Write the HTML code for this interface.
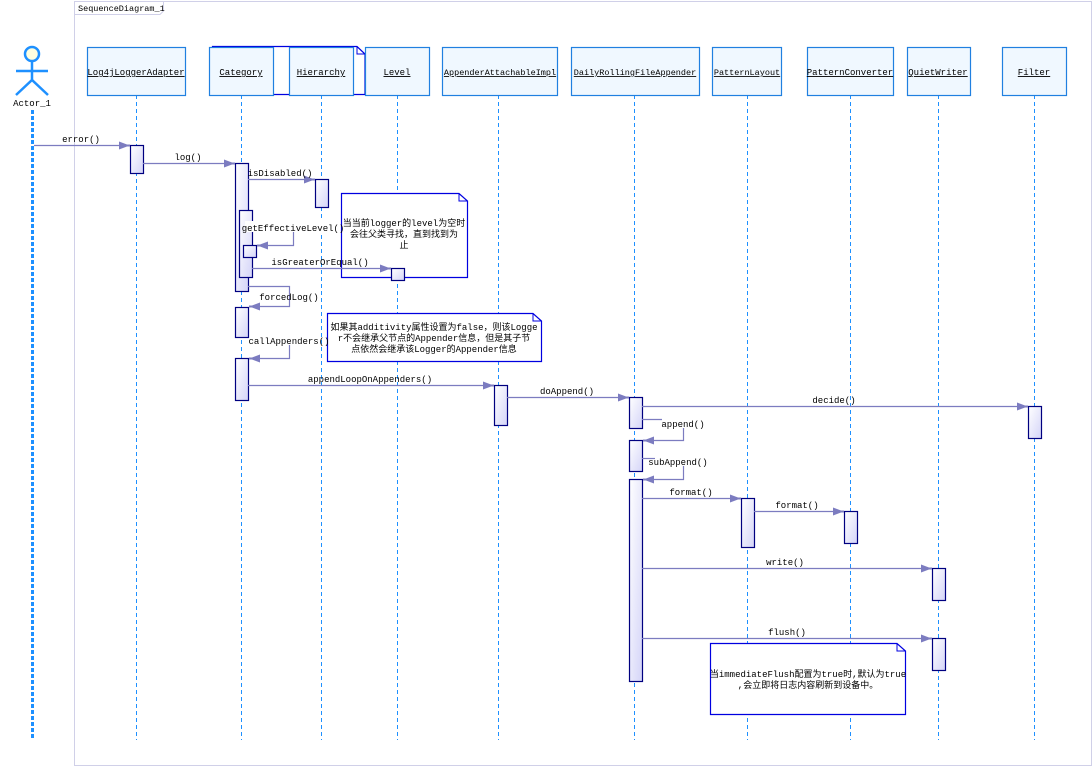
<!DOCTYPE html>
<html><head><meta charset="utf-8"><style>
html,body{margin:0;padding:0;background:#fff;}
svg{display:block;}
text{font-family:"Liberation Mono","Noto Sans CJK SC",monospace;font-size:9px;fill:#000;}
.t{text-anchor:middle;}
.box{fill:#f0f8ff;stroke:#2080e0;stroke-width:1.2;}
.ll{stroke:#1e90ff;stroke-width:1;stroke-dasharray:4,3;}
.act{fill:url(#ag);stroke:#000080;stroke-width:1.2;}
.m{stroke:#7c7cc0;stroke-width:1.2;fill:none;}
.note{fill:#fff;stroke:#0000e0;stroke-width:1.2;}
.cn{font-size:9px;}
</style></head><body>
<svg width="1092" height="766" viewBox="0 0 1092 766" xmlns="http://www.w3.org/2000/svg">
<defs>
<linearGradient id="ag" x1="0" y1="0" x2="1" y2="1"><stop offset="0" stop-color="#ffffff"/><stop offset="1" stop-color="#d4d4f8"/></linearGradient>
<marker id="ar" markerWidth="12" markerHeight="8" refX="11" refY="4" orient="auto" markerUnits="userSpaceOnUse"><path d="M0,0 L8,3 L11,3 L11,5 L8,5 L0,8 Z" fill="#7c7cc0"/></marker>
</defs>
<path d="M74.5,766 V1.5 H1091.5 V765.5 H74.5" fill="none" stroke="#d0d0e8" stroke-width="1"/>
<path d="M74.5,14.5 H160 L163.5,11 V1.5" fill="none" stroke="#d0d0e8"/>
<text x="78" y="11" style="font-size:8.5px">SequenceDiagram_1</text>
<path class="note" d="M212.5,46.5 H357 L365,54 V94.5 H212.5 Z"/>
<path d="M357,46.5 V54 H365" fill="none" stroke="#0000e0"/>
<circle cx="32" cy="54" r="7" fill="#ffffe0" stroke="#1e90ff" stroke-width="2.5"/>
<line x1="16" y1="71" x2="48" y2="71" stroke="#1e90ff" stroke-width="2.5"/>
<line x1="32" y1="61" x2="32" y2="80" stroke="#1e90ff" stroke-width="2.5"/>
<path d="M16,95 L32,80 L48,95" fill="none" stroke="#1e90ff" stroke-width="2.5"/>
<text class="t" x="32" y="106">Actor_1</text>
<line x1="32.5" y1="110" x2="32.5" y2="740" stroke="#1e90ff" stroke-width="3" stroke-dasharray="4,2"/>
<g class="ll">
<line x1="136.5" y1="95" x2="136.5" y2="740"/>
<line x1="241.5" y1="95" x2="241.5" y2="740"/>
<line x1="321.5" y1="95" x2="321.5" y2="740"/>
<line x1="397.5" y1="95" x2="397.5" y2="740"/>
<line x1="498.5" y1="95" x2="498.5" y2="740"/>
<line x1="634.5" y1="95" x2="634.5" y2="740"/>
<line x1="747.5" y1="95" x2="747.5" y2="740"/>
<line x1="850.5" y1="95" x2="850.5" y2="740"/>
<line x1="938.5" y1="95" x2="938.5" y2="740"/>
<line x1="1034.5" y1="95" x2="1034.5" y2="740"/>
</g>
<g>
<rect class="box" x="87.5" y="47.5" width="98" height="48"/><text class="t" x="136" y="75" text-decoration="underline">Log4jLoggerAdapter</text>
<rect class="box" x="209.5" y="47.5" width="64" height="48"/><text class="t" x="241" y="75" text-decoration="underline">Category</text>
<rect class="box" x="289.5" y="47.5" width="64" height="48"/><text class="t" x="321" y="75" text-decoration="underline">Hierarchy</text>
<rect class="box" x="365.5" y="47.5" width="64" height="48"/><text class="t" x="397" y="75" text-decoration="underline">Level</text>
<rect class="box" x="442.5" y="47.5" width="115" height="48"/><text class="t" x="500" y="75" text-decoration="underline" style="font-size:8.5px">AppenderAttachableImpl</text>
<rect class="box" x="571.5" y="47.5" width="128" height="48"/><text class="t" x="635" y="75" text-decoration="underline" style="font-size:8.5px">DailyRollingFileAppender</text>
<rect class="box" x="712.5" y="47.5" width="69" height="48"/><text class="t" x="747" y="75" text-decoration="underline" style="font-size:8.5px">PatternLayout</text>
<rect class="box" x="807.5" y="47.5" width="86" height="48"/><text class="t" x="850" y="75" text-decoration="underline">PatternConverter</text>
<rect class="box" x="907.5" y="47.5" width="63" height="48"/><text class="t" x="938" y="75" text-decoration="underline">QuietWriter</text>
<rect class="box" x="1002.5" y="47.5" width="64" height="48"/><text class="t" x="1034" y="75" text-decoration="underline">Filter</text>
</g>
<path class="note" d="M341.5,193.5 H459 L467.5,201 V277.5 H341.5 Z"/><path d="M459,193.5 V201 H467.5" fill="none" stroke="#0000e0"/>
<path class="note" d="M327.5,313.5 H533 L541.5,321 V361.5 H327.5 Z"/><path d="M533,313.5 V321 H541.5" fill="none" stroke="#0000e0"/>
<path class="note" d="M710.5,643.5 H897 L905.5,651 V714.5 H710.5 Z"/><path d="M897,643.5 V651 H905.5" fill="none" stroke="#0000e0"/>
<rect class="act" x="130.5" y="145.5" width="13" height="28"/>
<rect class="act" x="235.5" y="163.5" width="13" height="128"/>
<rect class="act" x="239.5" y="210.5" width="13" height="67"/>
<rect class="act" x="243.5" y="245.5" width="13" height="12"/>
<rect class="act" x="315.5" y="179.5" width="13" height="28"/>
<rect class="act" x="391.5" y="268.5" width="13" height="12"/>
<rect class="act" x="235.5" y="307.5" width="13" height="30"/>
<rect class="act" x="235.5" y="358.5" width="13" height="42"/>
<rect class="act" x="494.5" y="385.5" width="13" height="40"/>
<rect class="act" x="629.5" y="397.5" width="13" height="31"/>
<rect class="act" x="629.5" y="440.5" width="13" height="31"/>
<rect class="act" x="629.5" y="479.5" width="13" height="202"/>
<rect class="act" x="741.5" y="498.5" width="13" height="49"/>
<rect class="act" x="844.5" y="511.5" width="13" height="32"/>
<rect class="act" x="932.5" y="568.5" width="13" height="32"/>
<rect class="act" x="932.5" y="638.5" width="13" height="32"/>
<rect class="act" x="1028.5" y="406.5" width="13" height="32"/>
<g class="m">
<line x1="34" y1="145.5" x2="130" y2="145.5" marker-end="url(#ar)"/>
<line x1="143" y1="163.5" x2="235" y2="163.5" marker-end="url(#ar)"/>
<line x1="248" y1="179.5" x2="315" y2="179.5" marker-end="url(#ar)"/>
<path d="M293.5,225 V245.5 H257" marker-end="url(#ar)"/>
<line x1="252" y1="268.5" x2="391" y2="268.5" marker-end="url(#ar)"/>
<path d="M248,286.5 H289.5 V306.5 H249" marker-end="url(#ar)"/>
<path d="M289.5,345 V358.5 H249" marker-end="url(#ar)"/>
<line x1="248" y1="385.5" x2="494" y2="385.5" marker-end="url(#ar)"/>
<line x1="507" y1="397.5" x2="629" y2="397.5" marker-end="url(#ar)"/>
<line x1="642" y1="406.5" x2="1028" y2="406.5" marker-end="url(#ar)"/>
<path d="M642,419.5 H662"/><path d="M683.5,428 V440.5 H643" marker-end="url(#ar)"/>
<path d="M642,458.5 H655"/><path d="M683.5,466 V479.5 H643" marker-end="url(#ar)"/>
<line x1="642" y1="498.5" x2="741" y2="498.5" marker-end="url(#ar)"/>
<line x1="754" y1="511.5" x2="844" y2="511.5" marker-end="url(#ar)"/>
<line x1="642" y1="568.5" x2="932" y2="568.5" marker-end="url(#ar)"/>
<line x1="642" y1="638.5" x2="932" y2="638.5" marker-end="url(#ar)"/>
</g>
<g>
<text class="t" x="81" y="142">error()</text>
<text class="t" x="188" y="160">log()</text>
<text class="t" x="280" y="176">isDisabled()</text>
<rect x="245" y="221" width="95" height="11" fill="#fff"/>
<text class="t" x="293" y="231">getEffectiveLevel()</text>
<text class="t" x="320" y="265">isGreaterOrEqual()</text>
<text class="t" x="289" y="300">forcedLog()</text>
<text class="t" x="289" y="344">callAppenders()</text>
<text class="t" x="370" y="382">appendLoopOnAppenders()</text>
<text class="t" x="567" y="394">doAppend()</text>
<text class="t" x="834" y="403">decide()</text>
<text class="t" x="683" y="427">append()</text>
<text class="t" x="678" y="465">subAppend()</text>
<text class="t" x="691" y="495">format()</text>
<text class="t" x="797" y="508">format()</text>
<text class="t" x="785" y="565">write()</text>
<text class="t" x="787" y="635">flush()</text>
<text class="t cn" x="404" y="226">当当前logger的level为空时</text>
<text class="t cn" x="404" y="237">会往父类寻找，直到找到为</text>
<text class="t cn" x="404" y="248">止</text>
<text class="t cn" x="434" y="330">如果其additivity属性设置为false，则该Logge</text>
<text class="t cn" x="434" y="341">r不会继承父节点的Appender信息，但是其子节</text>
<text class="t cn" x="434" y="352">点依然会继承该Logger的Appender信息</text>
<text class="t cn" x="808" y="677">当immediateFlush配置为true时,默认为true</text>
<text class="t cn" x="808" y="688">,会立即将日志内容刷新到设备中。</text>
</g>
</svg>
</body></html>
